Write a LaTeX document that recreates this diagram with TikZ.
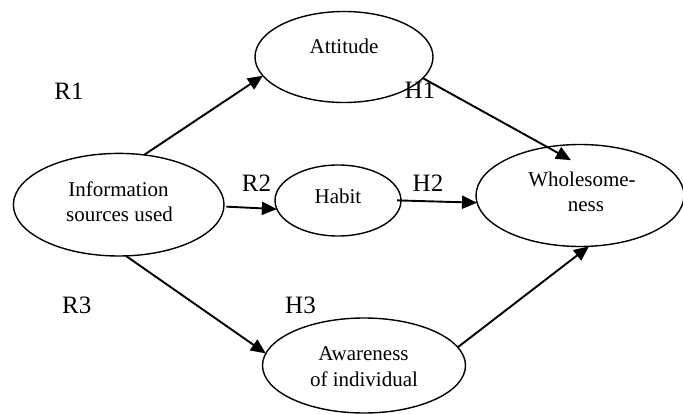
\documentclass[tikz,border=0pt]{standalone}
\usepackage{fontspec}
\setmainfont{Liberation Serif}
\usetikzlibrary{arrows.meta,shapes.geometric}
\begin{document}
\begin{tikzpicture}[x=1pt,y=-1pt,
  ell/.style={draw, ellipse, line width=1.4pt, inner sep=0pt, outer sep=0pt},
  txt/.style={font=\fontsize{21}{25}\selectfont, anchor=base, inner sep=0pt},
  lab/.style={font=\fontsize{25}{30}\selectfont, anchor=base, inner sep=0pt},
  arr/.style={line width=1.9pt, -{Triangle[length=15pt,width=13pt]}}]
\useasboundingbox (0,0) rectangle (683,414);
\clip (0,0) rectangle (683,414);
% labels
\node[lab] (r1) at (69,99.3) {R1};
\node[lab] (h1) at (420,99) {H1};
\node[lab] (r2) at (256.5,191.7) {R2};
\node[lab] (h2) at (428,191.7) {H2};
\node[lab] (r3) at (76.7,313.3) {R3};
\node[lab] (h3) at (300.5,313) {H3};
% ellipses
\node[ell, minimum width=178pt, minimum height=91pt] (att) at (344,57) {};
\node[ell, minimum width=210.6pt, minimum height=102.6pt] (info) at (118.7,204.7) {};
\node[ell, minimum width=126pt, minimum height=71pt] (hab) at (338,200.5) {};
\node[ell, minimum width=208pt, minimum height=102pt] (who) at (580,195.5) {};
\node[ell, minimum width=203pt, minimum height=95pt] (awa) at (364,365.5) {};
% texts
\node[txt] (tatt) at (344,53.5) {Attitude};
\node[txt] (tinfo1) at (118.5,196.5) {Information};
\node[txt] (tinfo2) at (119.5,221.7) {sources used};
\node[txt] (thab) at (338,204) {Habit};
\node[txt] (twho1) at (582,186.7) {Wholesome-};
\node[txt] (twho2) at (586,211.7) {ness};
\node[txt] (tawa1) at (363.5,360) {Awareness};
\node[txt] (tawa2) at (364,386) {of individual};
% arrows
\draw[arr] (info.63.3) -- (att.193.3);
\draw[arr, shorten >=-27pt] (att.-15) -- (who.124.6);
\draw[arr, shorten <=2.5pt] (info.-1.5) -- (hab.188.3);
\draw[arr, shorten <=-4pt] (hab.0) -- (who.184.3);
\draw[arr] (info.-82.7) -- (awa.173.9);
\draw[arr] (awa.11) -- (who.-80.3);
\end{tikzpicture}
\end{document}
